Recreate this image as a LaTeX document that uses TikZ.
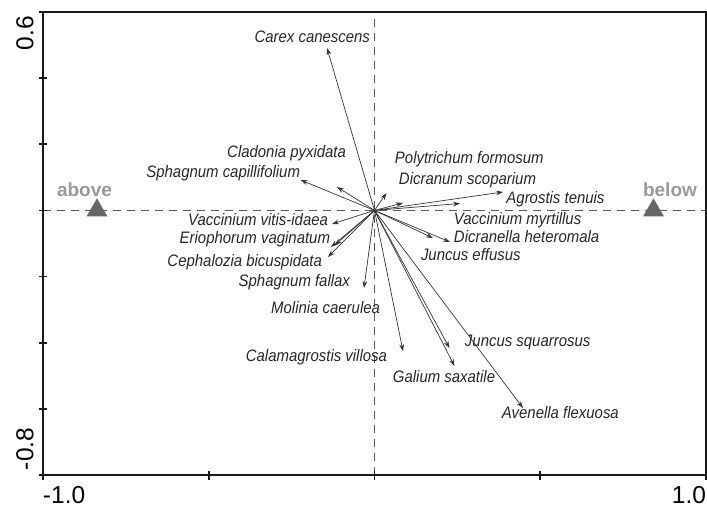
\documentclass[tikz,border=0pt]{standalone}
\usepackage{fontspec}
\setmainfont{Liberation Sans}
\newfontfamily\spfont[FakeStretch=0.9]{Liberation Sans}
\usetikzlibrary{positioning, arrows.meta, shapes.geometric}

\tikzset{
  biplot/.style={x=165.75pt, y=165.36pt, inner sep=0pt, outer sep=0pt},
  species/.style={font=\spfont\fontsize{8.3}{10}\selectfont\itshape, text=black!85},
  sp/.style={draw=black!80, line width=0.35pt, -{Stealth[length=3.5pt, width=2.4pt]}},
  env/.style={regular polygon, regular polygon sides=3, fill=black!60, minimum size=12.1pt},
  env label/.style={font=\fontsize{9.5}{11}\selectfont\bfseries, text=black!40},
  axis label/.style={font=\fontsize{12.25}{14}\selectfont},
  zero line/.style={draw=black!65, line width=0.5pt, dash pattern=on 4pt off 3pt},
  frame/.style={draw=black!90, line width=1pt}
}

\begin{document}
\begin{tikzpicture}[biplot]
  \useasboundingbox (-1.1297,-0.8969) rectangle (1.0030,0.6362);
  \draw[zero line] (-1,0) -- (1,0);
  \draw[zero line] (0,-0.8) -- (0,0.6);
  \draw[frame] (-1,-0.8) rectangle (1,0.6);
  \foreach \x in {-1,-0.5,0,0.5,1}
    \draw[frame, line width=0.8pt] (\x,-0.8) ++(0,-2.5pt) -- ++(0,4.5pt);
  \foreach \y in {-0.8,-0.6,...,0.61}
    \draw[frame, line width=0.8pt] (-1,\y) ++(-2pt,0) -- ++(4pt,0);
  \node[axis label, rotate=90, anchor=base east] (ymax) at (-1.0287,0.5878) {0.6};
  \node[axis label, rotate=90, anchor=base west] (ymin) at (-1.0287,-0.7850) {-0.8};
  \node[axis label, anchor=base west] (xmin) at (-1,-0.8848) {-1.0};
  \node[axis label, anchor=base east] (xmax) at (1,-0.8848) {1.0};
%
  \node[env] (above tri) at (-0.8371,0) {};
  \node[env label, above=1pt of above tri, xshift=-6.25pt] (above lab) {above};
  \node[env] (below tri) at (0.8416,0) {};
  \node[env label, above=1pt of below tri, xshift=8.25pt] (below lab) {below};
%
  \coordinate (o) at (0,0);
  \coordinate (carex) at (-0.1433,0.4911);
  \coordinate (cladonia) at (-0.1131,0.0708);
  \coordinate (sphcap) at (-0.2226,0.0919);
  \coordinate (polytr) at (0.0362,0.0526);
  \coordinate (dicran) at (0.0860,0.0224);
  \coordinate (vacmyr) at (0.2579,0.0209);
  \coordinate (agrost) at (0.3876,0.0556);
  \coordinate (vacvit) at (-0.1282,-0.0411);
  \coordinate (erioph) at (-0.1312,-0.1107);
  \coordinate (sphfal) at (-0.1192,-0.1046);
  \coordinate (cephal) at (-0.1403,-0.1409);
  \coordinate (molin) at (-0.0317,-0.2346);
  \coordinate (calam) at (0.0860,-0.4257);
  \coordinate (juncsq) at (0.2262,-0.4161);
  \coordinate (galium) at (0.2413,-0.4705);
  \coordinate (avenel) at (0.4480,-0.5975);
  \coordinate (junceff) at (0.1765,-0.0835);
  \coordinate (dicrnl) at (0.2278,-0.0955);
  \foreach \s in {carex,cladonia,sphcap,polytr,dicran,vacmyr,agrost,vacvit,erioph,
                  sphfal,cephal,molin,calam,juncsq,galium,avenel,junceff,dicrnl}
    \draw[sp] (o) -- (\s);
%
  \begin{scope}[species]
  \node[anchor=base east] (carex lab) at (-0.0136,0.5077) {Carex canescens};
  \node[anchor=base east] (cladonia lab) at (-0.0860,0.1600) {Cladonia pyxidata};
  \node[anchor=base east] (sphcap lab) at (-0.2247,0.0995) {Sphagnum capillifolium};
  \node[anchor=base east] (vacvit lab) at (-0.1403,-0.0457) {Vaccinium vitis-idaea};
  \node[anchor=base east] (erioph lab) at (-0.1342,-0.1001) {Eriophorum vaginatum};
  \node[anchor=base east] (cephal lab) at (-0.1584,-0.1696) {Cephalozia bicuspidata};
  \node[anchor=base east] (sphfal lab) at (-0.0739,-0.2301) {Sphagnum fallax};
  \node[anchor=base east] (molin lab) at (0.0166,-0.3117) {Molinia caerulea};
  \node[anchor=base east] (calam lab) at (0.0377,-0.4569) {Calamagrostis villosa};
  \node[anchor=base west] (polytr lab) at (0.0618,0.1418) {Polytrichum formosum};
  \node[anchor=base west] (dicran lab) at (0.0739,0.0783) {Dicranum scoparium};
  \node[anchor=base west] (agrost lab) at (0.3982,0.0209) {Agrostis tenuis};
  \node[anchor=base west] (vacmyr lab) at (0.2398,-0.0426) {Vaccinium myrtillus};
  \node[anchor=base west] (dicrnl lab) at (0.2398,-0.0971) {Dicranella heteromala};
  \node[anchor=base west] (junceff lab) at (0.1403,-0.1515) {Juncus effusus};
  \node[anchor=base west] (galium lab) at (0.0558,-0.5204) {Galium saxatile};
  \node[anchor=base west] (juncsq lab) at (0.2730,-0.4115) {Juncus squarrosus};
  \node[anchor=base west] (avenel lab) at (0.3846,-0.6292) {Avenella flexuosa};
  \end{scope}
\end{tikzpicture}
\end{document}
